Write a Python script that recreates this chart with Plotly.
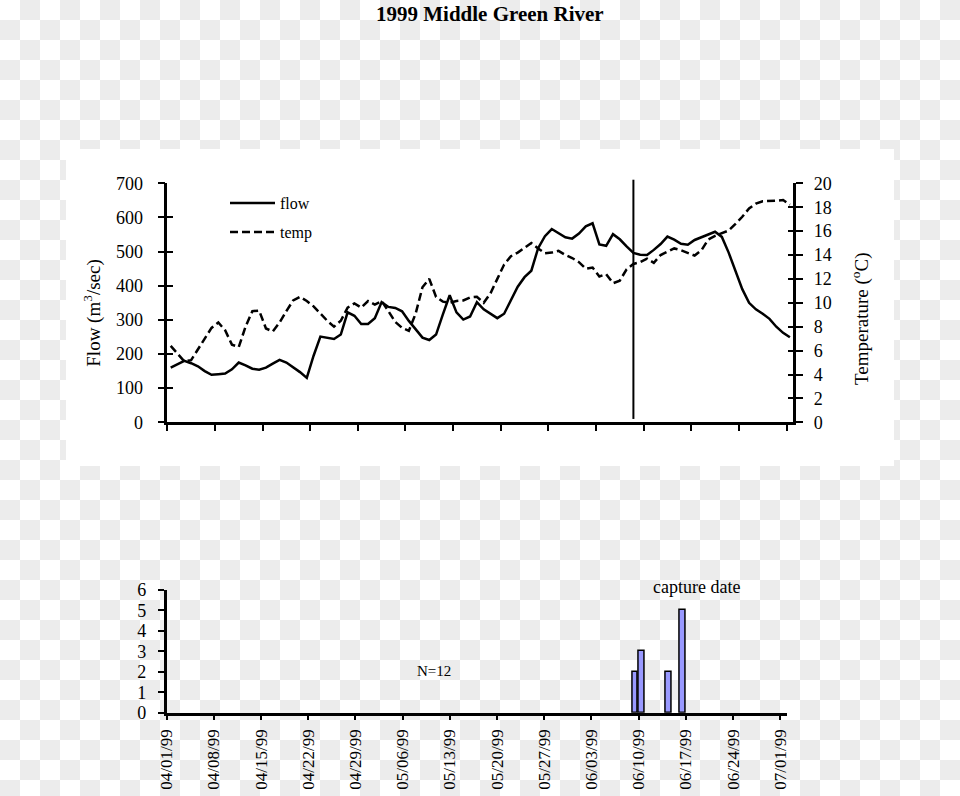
import base64
import struct
import zlib

import pandas as pd
import plotly.graph_objects as go

# ---------------- data ----------------
start_date = "1999-04-01"
flow = [160, 170, 180, 173, 164, 150, 139, 141, 143, 155,
        175, 167, 157, 154, 160, 172, 183, 175, 162, 147,
        130, 195, 251, 248, 244, 257, 322, 312, 288, 288,
        305, 352, 338, 335, 325, 297, 272, 248, 241, 257,
        316, 372, 322, 301, 310, 352, 331, 318, 305, 318,
        360, 397, 425, 444, 510, 545, 566, 555, 542, 538,
        553, 574, 583, 521, 517, 551, 536, 515, 496, 491,
        490, 505, 522, 544, 535, 523, 520, 534, 541, 550,
        558, 543, 497, 441, 390, 350, 331, 318, 303, 280,
        262, 249]
temp = [6.4, 5.75, 5.1, 5.2, 6.1, 7.0, 7.9, 8.35, 7.7, 6.5,
        6.3, 8.0, 9.3, 9.35, 7.85, 7.6, 8.35, 9.3, 10.2, 10.5,
        10.15, 9.7, 9.1, 8.5, 8.0, 8.5, 9.6, 9.95, 9.6, 10.15,
        9.85, 10.15, 9.3, 8.4, 7.9, 7.65, 9.1, 11.3, 12.0, 10.5,
        10.1, 10.0, 10.15, 10.2, 10.45, 10.5, 10.0, 10.8, 12.0, 13.2,
        13.9, 14.2, 14.6, 15.0, 14.55, 14.15, 14.2, 14.35, 14.0, 13.75,
        13.4, 12.85, 12.95, 12.2, 12.4, 11.64, 11.85, 12.8, 13.25, 13.4,
        13.7, 13.35, 14.0, 14.3, 14.55, 14.4, 14.2, 13.95, 14.4, 15.3,
        15.6, 15.8, 16.05, 16.6, 17.2, 17.9, 18.3, 18.5, 18.5, 18.55,
        18.6, 18.2]
capture_dates = ["1999-06-09", "1999-06-10", "1999-06-14", "1999-06-16"]
capture_counts = [2, 3, 2, 5]
marker_date = "1999-06-08"
tick_start, tick_end = "1999-04-01", "1999-07-01"
range_end = "1999-07-02"

dates = pd.date_range(start_date, periods=len(flow), freq="D")
week_ticks = pd.date_range(tick_start, tick_end, freq="7D")
DAY_MS = 86400000

W, H = 960, 796
FONT = "Liberation Serif"


def px(x):
    return x / W


def py(y):
    return 1 - y / H


# ---------------- checkerboard background (transparency pattern) ----------------
def checker_png(w, h, size=20, gray=236):
    g = bytes([gray] * 3)
    wh = bytes([255] * 3)
    row_a = b"\x00" + b"".join((g if (x // size) % 2 else wh) for x in range(w))
    row_b = b"\x00" + b"".join((wh if (x // size) % 2 else g) for x in range(w))
    raw = b"".join(row_a if (y // size) % 2 == 0 else row_b for y in range(h))

    def chunk(tag, data):
        c = struct.pack(">I", len(data)) + tag + data
        return c + struct.pack(">I", zlib.crc32(tag + data) & 0xffffffff)

    png = b"\x89PNG\r\n\x1a\n"
    png += chunk(b"IHDR", struct.pack(">IIBBBBB", w, h, 8, 2, 0, 0, 0))
    png += chunk(b"IDAT", zlib.compress(raw, 9))
    png += chunk(b"IEND", b"")
    return "data:image/png;base64," + base64.b64encode(png).decode()


fig = go.Figure()

line_dash = "8px,4px"

fig.add_trace(go.Scatter(
    x=dates, y=flow, name="flow", mode="lines",
    xperiod=DAY_MS, xperiodalignment="middle",
    line=dict(color="black", width=2.5),
    xaxis="x", yaxis="y", legend="legend"))
fig.add_trace(go.Scatter(
    x=dates, y=temp, name="temp", mode="lines",
    xperiod=DAY_MS, xperiodalignment="middle",
    line=dict(color="black", width=2.5, dash=line_dash),
    xaxis="x", yaxis="y2", legend="legend2"))
# helper (empty) traces so inside-tick overlay axes are drawn
fig.add_trace(go.Scatter(x=[], y=[], xaxis="x", yaxis="y3", showlegend=False, hoverinfo="skip"))
fig.add_trace(go.Scatter(x=[], y=[], xaxis="x", yaxis="y4", showlegend=False, hoverinfo="skip"))

fig.add_trace(go.Bar(
    x=capture_dates, y=capture_counts, xaxis="x2", yaxis="y5",
    xperiod=DAY_MS, xperiodalignment="middle",
    width=0.85 * DAY_MS, showlegend=False,
    marker=dict(color="#9999ff", line=dict(color="black", width=1.5))))

tick_font = dict(family=FONT, size=18, color="black")
xtick_font = dict(family=FONT, size=17, color="black")
common_axis = dict(showgrid=False, zeroline=False, color="black", linecolor="black")

up_dom_y = [py(422.3), py(183.3)]
low_dom_y = [py(712.7), py(590)]


def label(text, x, y, size, angle=0, yanchor="middle"):
    return dict(text=text, xref="paper", yref="paper", x=px(x), y=py(y),
                xanchor="center", yanchor=yanchor, textangle=angle,
                showarrow=False, font=dict(family=FONT, size=size, color="black"))


fig.update_layout(
    width=W, height=H,
    margin=dict(l=0, r=0, t=0, b=0),
    paper_bgcolor="white", plot_bgcolor="rgba(0,0,0,0)",
    template="none",
    font=dict(family=FONT, color="black"),
    bargap=0,
    xaxis=dict(**common_axis, domain=[px(167.3), px(793.3)], anchor="y",
               type="date", range=[tick_start, range_end],
               tickmode="array", tickvals=week_ticks, showticklabels=False,
               showline=True, linewidth=2.5, ticks="outside", ticklen=6, tickwidth=2),
    yaxis=dict(**common_axis, domain=up_dom_y, anchor="x", range=[0, 700], dtick=100,
               showline=True, linewidth=2.5, ticks="outside", ticklen=7, tickwidth=2,
               tickfont=tick_font, ticklabelstandoff=11),
    yaxis2=dict(**common_axis, overlaying="y", side="right", anchor="x", range=[0, 20], dtick=2,
                showline=True, linewidth=2.5, ticks="outside", ticklen=7, tickwidth=2,
                tickfont=tick_font, ticklabelstandoff=7),
    yaxis3=dict(**common_axis, overlaying="y", anchor="x", range=[0, 700], dtick=100,
                showline=False, ticks="inside", ticklen=6, tickwidth=2, showticklabels=False),
    yaxis4=dict(**common_axis, overlaying="y", side="right", anchor="x", range=[0, 20], dtick=2,
                showline=False, ticks="inside", ticklen=5, tickwidth=2, showticklabels=False),
    xaxis2=dict(**common_axis, domain=[px(166.7), px(787)], anchor="y5",
                type="date", range=[tick_start, range_end],
                tickmode="array", tickvals=week_ticks, tickformat="%m/%d/%y",
                tickangle=-90, tickfont=xtick_font, ticklabelstandoff=2,
                showline=True, linewidth=2.5, ticks="outside", ticklen=5, tickwidth=2),
    yaxis5=dict(**common_axis, domain=low_dom_y, anchor="x2", range=[0, 6], dtick=1,
                showline=True, linewidth=2.5, ticks="outside", ticklen=6, tickwidth=2,
                tickfont=tick_font, ticklabelstandoff=8),
    legend=dict(x=px(225), y=py(203), xanchor="left", yanchor="middle",
                bgcolor="rgba(0,0,0,0)", font=dict(family=FONT, size=16, color="black"),
                itemwidth=45),
    legend2=dict(x=px(225), y=py(232), xanchor="left", yanchor="middle",
                 bgcolor="rgba(0,0,0,0)", font=dict(family=FONT, size=16, color="black"),
                 itemwidth=45),
    images=[dict(source=checker_png(W, H), xref="paper", yref="paper",
                 x=0, y=1, sizex=1, sizey=1, xanchor="left", yanchor="top",
                 sizing="stretch", layer="below")],
    shapes=[
        dict(type="rect", xref="paper", yref="paper", x0=px(66), x1=px(894),
             y0=py(466), y1=py(149), fillcolor="white", line=dict(width=0), layer="below"),
        dict(type="line", xref="x", yref="y domain",
             x0=pd.Timestamp(marker_date) + pd.Timedelta(hours=12),
             x1=pd.Timestamp(marker_date) + pd.Timedelta(hours=12),
             y0=0.014, y1=1.015, line=dict(color="black", width=2)),
    ],
    annotations=[
        label("<b>1999 Middle Green River</b>", 490, 0.5, 21, yanchor="top"),
        label("Flow (m<sup>3</sup>/sec)", 91.7, 313, 19, -90),
        label("Temperature (<sup>o</sup>C)", 860, 319, 19, -90),
        label("capture date", 696.5, 587, 18),
        label("N=12", 433.5, 671, 15),
    ],
)

fig.write_html("out.html")
